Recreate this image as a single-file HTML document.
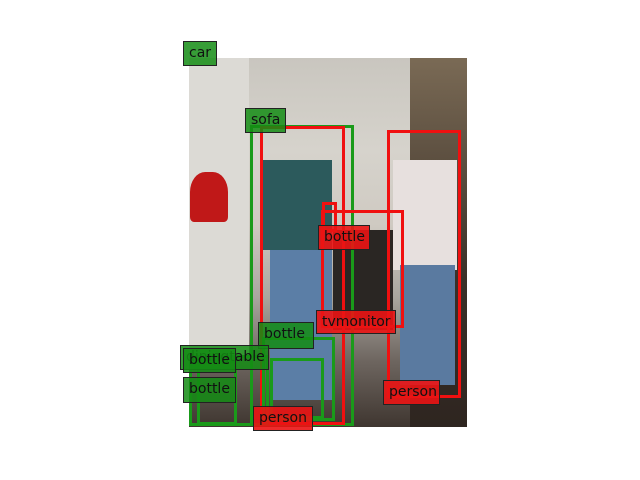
<!DOCTYPE html>
<html><head><style>
body{margin:0;width:640px;height:480px;background:#fff;position:relative;overflow:hidden;font-family:"DejaVu Sans",sans-serif}
.p{position:absolute}
.b{position:absolute;box-sizing:border-box;border:3px solid}
.g{border-color:#1a9a1a}
.r{border-color:#f01010}
.l{position:absolute;box-sizing:border-box;font-size:14px;line-height:22px;padding-left:5px;color:#111;border:1px solid #222;white-space:nowrap;overflow:hidden}
.lg{background:rgba(20,140,20,.85)}
.lr{background:rgba(235,20,20,.9)}
</style></head><body>
<div class="p" style="left:189px;top:58px;width:278px;height:369px;background:linear-gradient(180deg,#c9c6bf 0%,#d6d3cc 25%,#cfcac2 45%,#a9a69e 65%,#6e6660 82%,#3f3630 100%)"></div>
<div class="p" style="left:410px;top:58px;width:57px;height:369px;background:linear-gradient(180deg,#7a6a55,#3a3028 60%,#2e2520)"></div>
<div class="p" style="left:189px;top:58px;width:60px;height:300px;background:#dcdad5"></div>
<div class="p" style="left:262px;top:160px;width:70px;height:90px;background:#2c5a5c"></div>
<div class="p" style="left:270px;top:250px;width:62px;height:150px;background:#5b7ea6"></div>
<div class="p" style="left:393px;top:160px;width:64px;height:110px;background:#e7e0de"></div>
<div class="p" style="left:400px;top:265px;width:55px;height:120px;background:#5a7aa0"></div>
<div class="p" style="left:333px;top:230px;width:60px;height:100px;background:#2a2623"></div>
<div class="p" style="left:190px;top:172px;width:38px;height:50px;background:#c01818;border-radius:40% 40% 10% 10%"></div>

<div class="b g" style="left:250px;top:125px;width:104px;height:301px"></div>
<div class="b r" style="left:260px;top:126px;width:85px;height:299px"></div>
<div class="b r" style="left:387px;top:130px;width:74px;height:268px"></div>
<div class="b r" style="left:322px;top:202px;width:15px;height:30px"></div>
<div class="b r" style="left:321px;top:210px;width:83px;height:118px"></div>
<div class="b g" style="left:262px;top:337px;width:73px;height:84px"></div>
<div class="b g" style="left:270px;top:358px;width:54px;height:61px"></div>
<div class="b g" style="left:189px;top:355px;width:80px;height:71px"></div>
<div class="b g" style="left:197px;top:360px;width:40px;height:65px"></div>

<div class="l lg" style="left:183px;top:41px;width:34px;height:25px">car</div>
<div class="l lg" style="left:245px;top:108px;width:41px;height:25px">sofa</div>
<div class="l lr" style="left:318px;top:225px;width:52px;height:25px">bottle</div>
<div class="l lr" style="left:316px;top:310px;width:80px;height:24px">tvmonitor</div>
<div class="l lg" style="left:258px;top:322px;width:56px;height:27px">bottle</div>
<div class="l lg" style="left:180px;top:345px;width:89px;height:25px">diningtable</div>
<div class="l lg" style="left:183px;top:348px;width:53px;height:25px">bottle</div>
<div class="l lg" style="left:183px;top:377px;width:53px;height:26px">bottle</div>
<div class="l lr" style="left:383px;top:380px;width:57px;height:25px">person</div>
<div class="l lr" style="left:253px;top:406px;width:60px;height:25px">person</div>
</body></html>
